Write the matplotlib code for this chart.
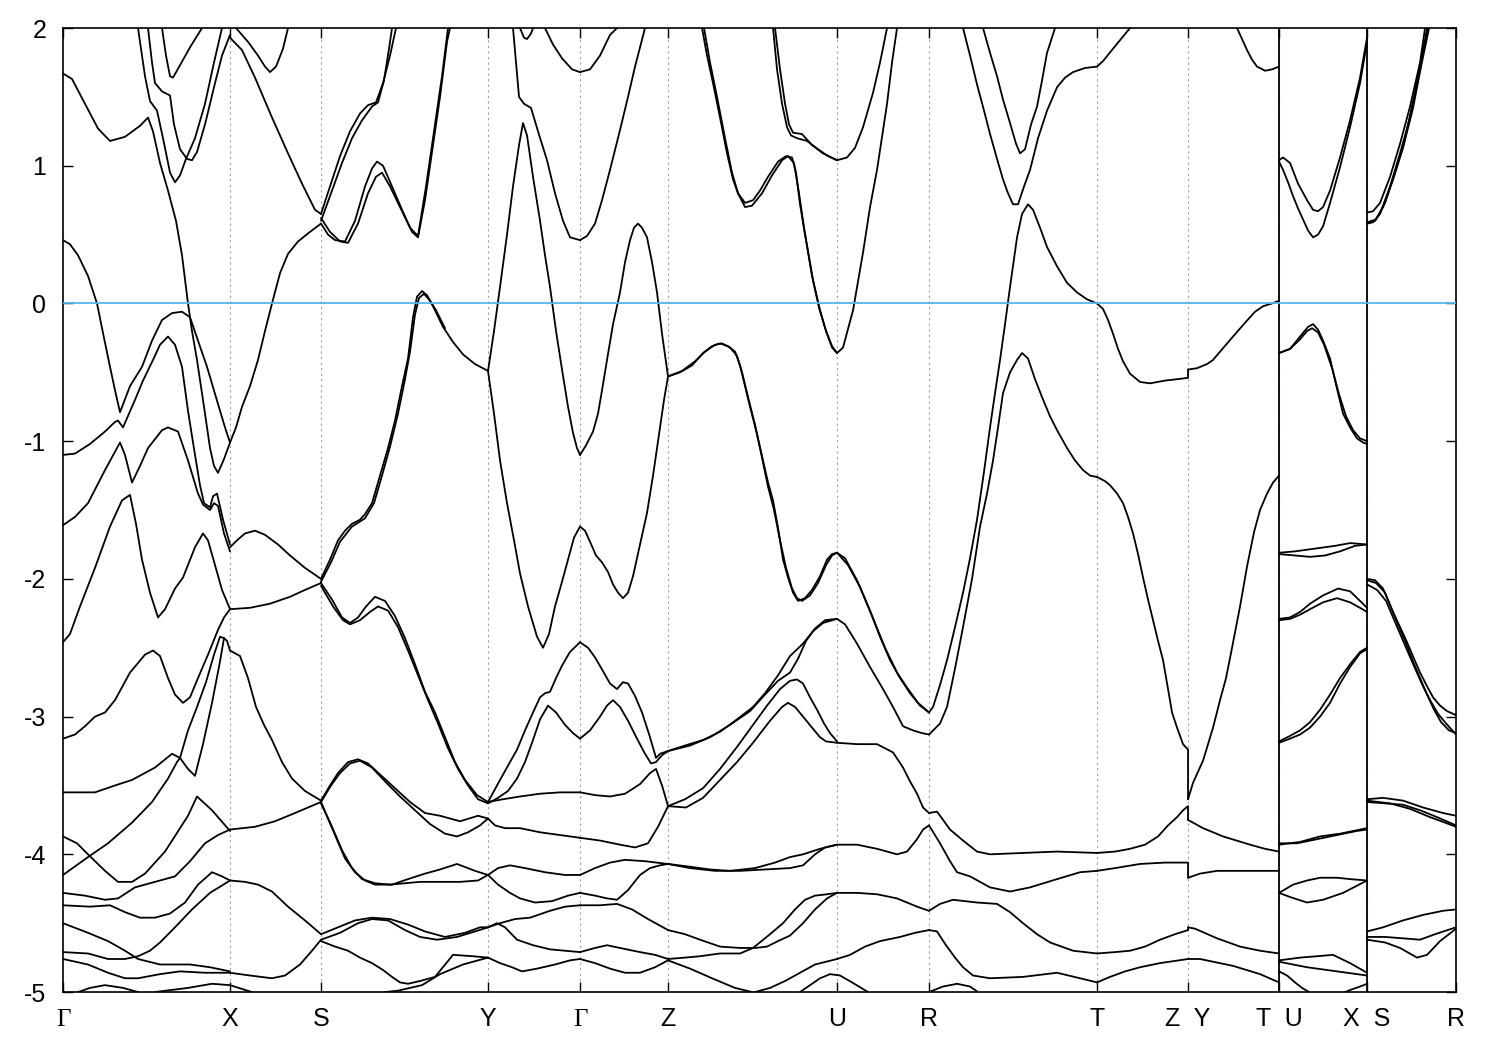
import matplotlib
matplotlib.use("Agg")
import matplotlib.pyplot as plt

plt.rcParams['axes.unicode_minus'] = False
plt.rcParams['font.family'] = ['Liberation Sans', 'DejaVu Sans']

# ---------------- k-path ----------------
sym_k = [0, 167, 258, 425, 517, 605, 774, 866, 1034, 1125, 1216, 1304, 1393]
sym_labels = ['Γ', 'X', 'S', 'Y', 'Γ', 'Z', 'U', 'R', 'T', 'Z  Y', 'T  U', 'X  S', 'R']
jump_k = [1216, 1304]          # discontinuous path points (T|U, X|S)
E_MIN, E_MAX = -5, 2
fermi_level = 0.0

# ---------------- bands, (k, E in eV), per path segment ----------------
bands_GX = [
    [(0,1.67),(9,1.63),(22,1.45),(35,1.27),(47,1.18),(62,1.21),(77,1.29),(85,1.35),(90,1.25),(97,1.02),(105,0.82),(113,0.6),(119,0.35),(125,0.0),(129,-0.2),(134,-0.41),(141,-0.75),(147,-1.05),(151,-1.18),(155,-1.23),(161,-1.13),(167,-1.01)],
    [(75,2.0),(82,1.65),(87,1.47),(94,1.4),(100,1.2),(107,0.95),(112,0.88),(117,0.93),(123,1.05),(132,1.2),(142,1.45),(151,1.75),(159,2.0)],
    [(85,2.0),(89,1.75),(92,1.6),(99,1.54),(107,1.51),(111,1.3),(117,1.12),(124,1.05),(129,1.04),(134,1.1),(142,1.3),(152,1.6),(159,1.8),(167,1.95)],
    [(99,2.0),(103,1.8),(107,1.65),(110,1.64),(117,1.73),(127,1.86),(139,2.0)],
    [(0,0.46),(7,0.43),(15,0.35),(25,0.2),(34,0.0),(41,-0.25),(47,-0.46),(52,-0.63),(57,-0.79),(67,-0.6),(79,-0.46),(89,-0.27),(99,-0.12),(109,-0.07),(119,-0.06),(127,-0.1),(135,-0.27),(144,-0.46),(155,-0.73),(162,-0.9),(167,-1.01)],
    [(0,-1.1),(12,-1.09),(27,-1.02),(42,-0.93),(52,-0.86),(55,-0.85),(60,-0.9),(72,-0.7),(80,-0.56),(90,-0.41),(97,-0.3),(105,-0.24),(112,-0.3),(119,-0.46),(125,-0.78),(132,-1.1),(137,-1.32),(141,-1.45),(147,-1.48),(150,-1.4),(154,-1.38),(160,-1.57),(167,-1.75)],
    [(0,-1.61),(12,-1.55),(25,-1.45),(42,-1.21),(57,-1.01),(62,-1.1),(69,-1.3),(77,-1.18),(85,-1.05),(99,-0.92),(105,-0.9),(115,-0.93),(125,-1.14),(135,-1.38),(140,-1.46),(147,-1.5),(151,-1.45),(155,-1.47),(161,-1.67),(167,-1.8)],
    [(0,-2.46),(7,-2.4),(17,-2.2),(32,-1.92),(47,-1.62),(59,-1.43),(67,-1.39),(73,-1.6),(79,-1.86),(87,-2.1),(95,-2.28),(102,-2.22),(112,-2.07),(120,-1.99),(132,-1.77),(140,-1.67),(145,-1.72),(152,-1.9),(159,-2.08),(167,-2.22)],
    [(0,-3.16),(12,-3.13),(22,-3.07),(32,-3.0),(42,-2.97),(52,-2.88),(67,-2.68),(82,-2.55),(90,-2.52),(97,-2.56),(105,-2.72),(112,-2.84),(120,-2.9),(127,-2.86),(135,-2.72),(145,-2.55),(155,-2.37),(161,-2.28),(167,-2.22)],
    [(0,-3.55),(32,-3.55),(52,-3.5),(69,-3.46),(92,-3.37),(109,-3.27),(117,-3.3),(125,-3.38),(132,-3.43),(140,-3.2),(149,-2.9),(157,-2.6),(161,-2.43),(164,-2.45),(167,-2.52)],
    [(0,-4.15),(25,-4.02),(45,-3.92),(69,-3.77),(89,-3.62),(105,-3.45),(114,-3.33),(117,-3.3),(125,-3.1),(133,-2.95),(143,-2.75),(151,-2.55),(157,-2.42),(161,-2.43)],
    [(0,-3.87),(14,-3.92),(25,-4.0),(42,-4.12),(55,-4.2),(69,-4.2),(82,-4.14),(102,-3.98),(125,-3.72),(134,-3.58),(149,-3.68),(167,-3.83)],
    [(0,-4.28),(22,-4.3),(42,-4.33),(55,-4.32),(72,-4.24),(92,-4.2),(112,-4.16),(127,-4.05),(142,-3.92),(155,-3.86),(167,-3.82)],
    [(0,-4.37),(27,-4.38),(47,-4.37),(62,-4.42),(77,-4.46),(92,-4.46),(107,-4.43),(122,-4.35),(135,-4.22),(149,-4.13),(159,-4.16),(167,-4.19)],
    [(0,-4.5),(25,-4.57),(45,-4.63),(62,-4.7),(75,-4.76),(97,-4.8),(127,-4.8),(147,-4.82),(167,-4.85)],
    [(0,-4.71),(25,-4.72),(45,-4.76),(62,-4.76),(75,-4.74),(87,-4.7),(97,-4.64),(112,-4.53),(129,-4.4),(147,-4.28),(167,-4.19)],
    [(0,-4.76),(25,-4.8),(45,-4.86),(62,-4.9),(75,-4.9),(97,-4.87),(117,-4.85),(142,-4.86),(167,-4.86)],
    [(15,-5.0),(27,-4.97),(42,-4.95),(60,-4.97),(75,-5.0)],
    [(92,-5.0),(125,-4.97),(149,-4.94),(167,-4.95),(180,-4.98),(189,-5.0)],
]

bands_XS = [
    [(167,1.93),(179,1.84),(192,1.64),(209,1.35),(225,1.09),(239,0.87),(252,0.68),(258,0.65)],
    [(173,2.0),(185,1.9),(195,1.8),(202,1.72),(207,1.68),(213,1.72),(220,1.85),(225,2.0)],
    [(167,-1.01),(173,-0.9),(179,-0.75),(187,-0.6),(195,-0.41),(202,-0.2),(209,0.0),(217,0.22),(225,0.36),(235,0.45),(247,0.52),(258,0.58)],
    [(167,-1.77),(174,-1.72),(182,-1.67),(192,-1.65),(202,-1.68),(215,-1.75),(227,-1.83),(242,-1.92),(258,-2.0)],
    [(167,-2.22),(187,-2.21),(207,-2.18),(227,-2.13),(242,-2.08),(258,-2.03)],
    [(167,-2.52),(177,-2.56),(185,-2.72),(193,-2.93),(201,-3.06),(209,-3.17),(219,-3.33),(229,-3.45),(242,-3.54),(258,-3.61)],
    [(167,-3.82),(192,-3.8),(212,-3.76),(232,-3.7),(258,-3.62)],
    [(167,-4.19),(182,-4.2),(195,-4.22),(209,-4.27),(225,-4.38),(242,-4.48),(258,-4.58)],
    [(167,-4.86),(187,-4.88),(209,-4.9),(222,-4.88),(237,-4.8),(249,-4.7),(258,-4.62)],
]

bands_SY = [
    [(258,0.65),(267,0.85),(277,1.07),(287,1.25),(297,1.38),(305,1.44),(313,1.46),(320,1.6),(327,1.8),(333,2.0)],
    [(258,0.6),(269,0.82),(279,1.02),(289,1.2),(299,1.33),(309,1.43),(315,1.46),(321,1.62),(326,1.85),(329,2.0)],
    [(258,0.58),(265,0.5),(272,0.46),(282,0.45),(292,0.6),(302,0.85),(309,0.98),(314,1.03),(320,1.0),(329,0.85),(339,0.68),(349,0.52),(355,0.48),(362,0.75),(369,1.1),(377,1.5),(384,1.9),(387,2.0)],
    [(258,0.62),(267,0.52),(277,0.45),(285,0.44),(295,0.58),(305,0.8),(313,0.92),(319,0.95),(327,0.85),(337,0.7),(347,0.55),(355,0.49),(363,0.85),(371,1.25),(379,1.65),(385,2.0)],
    [(258,-2.0),(267,-1.86),(275,-1.72),(282,-1.65),(289,-1.6),(297,-1.57),(302,-1.53),(309,-1.45),(317,-1.25),(325,-1.05),(332,-0.85),(339,-0.6),(345,-0.4),(350,-0.1),(354,0.05),(359,0.09),(364,0.06),(370,-0.02),(380,-0.17),(390,-0.28),(400,-0.37),(412,-0.44),(425,-0.49)],
    [(258,-2.02),(268,-1.88),(277,-1.73),(289,-1.62),(302,-1.56),(311,-1.45),(319,-1.25),(327,-1.04),(335,-0.8),(342,-0.55),(347,-0.35),(352,-0.08),(356,0.04),(361,0.07),(367,0.02),(373,-0.05),(382,-0.18)],
    [(258,-2.03),(269,-2.15),(279,-2.28),(287,-2.32),(295,-2.28),(303,-2.2),(312,-2.13),(322,-2.16),(332,-2.27),(342,-2.43),(352,-2.62),(362,-2.82),(372,-2.97),(382,-3.15),(392,-3.33),(402,-3.46),(414,-3.57),(425,-3.62)],
    [(258,-2.05),(270,-2.2),(280,-2.3),(287,-2.33),(297,-2.3),(307,-2.24),(315,-2.2),(325,-2.23),(335,-2.35),(345,-2.52),(355,-2.7),(365,-2.88),(375,-3.05),(385,-3.23),(395,-3.38),(405,-3.5),(415,-3.6),(425,-3.63)],
    [(258,-3.61),(267,-3.5),(275,-3.41),(285,-3.33),(295,-3.31),(305,-3.34),(317,-3.42),(332,-3.52),(347,-3.62),(362,-3.7),(377,-3.72),(397,-3.76),(415,-3.72),(425,-3.74)],
    [(258,-3.62),(268,-3.5),(277,-3.41),(287,-3.34),(297,-3.32),(309,-3.37),(322,-3.47),(337,-3.58),(352,-3.68),(367,-3.78),(382,-3.85),(394,-3.87),(405,-3.84),(417,-3.79),(425,-3.74)],
    [(258,-3.62),(265,-3.74),(272,-3.86),(282,-4.03),(292,-4.13),(302,-4.19),(312,-4.22),(329,-4.22),(345,-4.18),(362,-4.14),(377,-4.11),(394,-4.07),(412,-4.12),(425,-4.15)],
    [(258,-3.63),(269,-3.8),(279,-3.97),(289,-4.1),(299,-4.18),(312,-4.21),(327,-4.22),(342,-4.21),(357,-4.2),(377,-4.2),(397,-4.2),(415,-4.19),(425,-4.15)],
    [(258,-4.58),(275,-4.53),(292,-4.48),(309,-4.46),(327,-4.47),(345,-4.51),(362,-4.56),(382,-4.6),(402,-4.57),(417,-4.53),(425,-4.53)],
    [(258,-4.62),(277,-4.57),(295,-4.5),(309,-4.47),(325,-4.48),(342,-4.55),(357,-4.6),(374,-4.62),(394,-4.6),(412,-4.56),(425,-4.53)],
    [(322,-5.0),(335,-4.99),(359,-4.95),(377,-4.87),(400,-4.8),(425,-4.75)],
    [(258,-4.63),(272,-4.67),(285,-4.7),(297,-4.75),(309,-4.79),(320,-4.84),(329,-4.89),(337,-4.93),(345,-4.94),(357,-4.92),(372,-4.89),(390,-4.73),(410,-4.74),(425,-4.75)],
]

bands_YG = [
    [(425,-0.49),(431,-0.2),(437,0.12),(444,0.5),(450,0.85),(456,1.15),(460,1.31),(464,1.22),(470,0.92),(477,0.6),(482,0.35),(487,0.12),(493,-0.2),(499,-0.48),(505,-0.75),(510,-0.94),(514,-1.05),(517,-1.1)],
    [(425,-0.49),(431,-0.8),(437,-1.14),(444,-1.45),(451,-1.72),(457,-1.96),(465,-2.2),(474,-2.42),(480,-2.5),(486,-2.4),(492,-2.2),(499,-2.02),(505,-1.86),(511,-1.7),(517,-1.62)],
    [(450,2.0),(453,1.75),(456,1.5),(461,1.45),(468,1.42),(475,1.25),(484,1.04),(492,0.8),(500,0.6),(507,0.48),(517,0.46)],
    [(482,2.0),(490,1.88),(499,1.78),(509,1.7),(517,1.68)],
    [(457,2.0),(461,1.93),(464,1.92),(468,1.96),(470,2.0)],
    [(425,-3.62),(437,-3.46),(447,-3.33),(454,-3.24),(462,-3.1),(470,-2.97),(477,-2.86),(482,-2.83),(487,-2.82),(493,-2.72),(499,-2.63),(507,-2.53),(517,-2.46)],
    [(425,-3.63),(435,-3.59),(445,-3.54),(454,-3.45),(462,-3.33),(470,-3.17),(477,-3.02),(485,-2.92),(493,-2.97),(502,-3.06),(510,-3.12),(517,-3.16)],
    [(425,-3.62),(440,-3.6),(457,-3.58),(477,-3.56),(497,-3.55),(517,-3.55)],
    [(425,-3.74),(432,-3.79),(442,-3.81),(457,-3.81),(477,-3.84),(497,-3.86),(517,-3.88)],
    [(425,-4.15),(435,-4.1),(447,-4.08),(462,-4.1),(482,-4.13),(502,-4.15),(517,-4.15)],
    [(425,-4.15),(435,-4.22),(447,-4.28),(457,-4.32),(472,-4.35),(489,-4.34),(505,-4.3),(517,-4.28)],
    [(425,-4.53),(437,-4.5),(452,-4.47),(467,-4.46),(487,-4.41),(502,-4.38),(517,-4.37)],
    [(425,-4.53),(434,-4.5),(442,-4.53),(454,-4.62),(470,-4.66),(487,-4.69),(502,-4.7),(517,-4.71)],
    [(425,-4.75),(437,-4.79),(449,-4.82),(459,-4.85),(474,-4.83),(492,-4.8),(507,-4.77),(517,-4.76)],
]

bands_GZ = [
    [(517,1.68),(527,1.7),(537,1.8),(547,1.95),(554,2.0)],
    [(517,0.46),(524,0.49),(532,0.58),(539,0.75),(547,0.97),(557,1.26),(565,1.5),(572,1.72),(582,2.0)],
    [(517,-1.1),(523,-1.03),(530,-0.93),(535,-0.8),(539,-0.63),(544,-0.41),(550,-0.15),(557,0.08),(562,0.3),(567,0.46),(571,0.55),(575,0.58),(579,0.55),(584,0.48),(589,0.3),(594,0.08),(599,-0.22),(605,-0.53)],
    [(517,-1.62),(522,-1.65),(527,-1.73),(533,-1.83),(539,-1.88),(545,-1.95),(550,-2.04),(555,-2.1),(560,-2.14),(565,-2.1),(570,-1.98),(577,-1.75),(584,-1.52),(590,-1.25),(597,-0.9),(601,-0.7),(605,-0.53)],
    [(517,-2.46),(525,-2.5),(532,-2.57),(540,-2.67),(547,-2.76),(554,-2.8),(560,-2.75),(565,-2.76),(572,-2.85),(579,-2.97),(587,-3.15),(593,-3.3),(597,-3.27),(605,-3.25)],
    [(517,-3.16),(527,-3.1),(537,-3.0),(544,-2.92),(550,-2.88),(557,-2.93),(565,-3.03),(574,-3.16),(582,-3.27),(588,-3.34),(593,-3.33),(599,-3.28),(605,-3.25)],
    [(517,-3.55),(532,-3.57),(547,-3.58),(562,-3.56),(577,-3.49),(587,-3.41),(593,-3.38),(599,-3.5),(605,-3.65)],
    [(517,-3.88),(537,-3.9),(557,-3.93),(572,-3.95),(585,-3.92),(595,-3.8),(605,-3.65)],
    [(517,-4.15),(532,-4.1),(547,-4.06),(562,-4.04),(582,-4.05),(605,-4.07)],
    [(517,-4.28),(532,-4.3),(544,-4.32),(554,-4.33),(565,-4.26),(577,-4.15),(587,-4.1),(597,-4.08),(605,-4.07)],
    [(517,-4.37),(537,-4.37),(554,-4.36),(569,-4.4),(585,-4.47),(605,-4.55)],
    [(517,-4.71),(532,-4.68),(544,-4.66),(557,-4.68),(577,-4.71),(592,-4.73),(605,-4.76)],
    [(517,-4.76),(532,-4.79),(547,-4.83),(562,-4.86),(577,-4.86),(592,-4.82),(605,-4.77)],
]

bands_ZU = [
    [(605,-0.53),(617,-0.5),(629,-0.45),(640,-0.36),(649,-0.31),(657,-0.29),(665,-0.31),(672,-0.35),(677,-0.45),(682,-0.6),(687,-0.75),(694,-0.95),(700,-1.14),(705,-1.3),(710,-1.43),(715,-1.63),(720,-1.86),(725,-1.99),(730,-2.1),(735,-2.16),(742,-2.14),(749,-2.08),(757,-1.98),(764,-1.86),(769,-1.82),(774,-1.81)],
    [(605,-0.53),(619,-0.49),(632,-0.42),(642,-0.35),(652,-0.3),(659,-0.29),(667,-0.32),(674,-0.38),(679,-0.5),(685,-0.68),(692,-0.88),(699,-1.12),(705,-1.33),(711,-1.5),(717,-1.72),(723,-1.92),(729,-2.07),(734,-2.14),(739,-2.16),(747,-2.12),(755,-2.03),(763,-1.9),(769,-1.83),(774,-1.81)],
    [(639,2.0),(644,1.8),(650,1.6),(657,1.35),(664,1.09),(670,0.9),(675,0.8),(682,0.73),(690,0.75),(697,0.82),(705,0.92),(715,1.03),(723,1.07),(729,1.06),(733,0.95),(737,0.72),(742,0.5),(750,0.17),(757,-0.05),(763,-0.2),(769,-0.31),(774,-0.36)],
    [(641,2.0),(647,1.75),(654,1.5),(662,1.2),(669,0.95),(675,0.8),(682,0.7),(689,0.71),(699,0.8),(709,0.93),(719,1.04),(725,1.07),(731,1.02),(736,0.8),(741,0.55),(749,0.2),(756,-0.03),(763,-0.2),(769,-0.32),(774,-0.36)],
    [(710,2.0),(714,1.7),(719,1.45),(724,1.28),(728,1.22),(734,1.2),(744,1.18),(755,1.12),(765,1.07),(774,1.04)],
    [(712,2.0),(717,1.7),(722,1.45),(726,1.3),(730,1.24),(739,1.23),(749,1.15),(760,1.09),(774,1.04)],
    [(605,-3.25),(622,-3.21),(640,-3.17),(657,-3.11),(674,-3.02),(690,-2.93),(702,-2.83),(715,-2.7),(727,-2.56),(740,-2.47),(750,-2.38),(760,-2.32),(774,-2.29)],
    [(605,-3.25),(627,-3.21),(647,-3.15),(667,-3.06),(687,-2.96),(702,-2.84),(715,-2.74),(727,-2.68),(735,-2.58),(743,-2.45),(752,-2.36),(762,-2.3),(774,-2.29)],
    [(605,-3.65),(623,-3.66),(640,-3.59),(657,-3.46),(674,-3.33),(690,-3.19),(707,-3.03),(719,-2.93),(725,-2.9),(732,-2.93),(740,-3.0),(749,-3.08),(757,-3.15),(763,-3.18),(774,-3.19)],
    [(605,-3.65),(622,-3.6),(640,-3.52),(657,-3.38),(674,-3.22),(690,-3.06),(704,-2.92),(717,-2.8),(727,-2.74),(734,-2.73),(740,-2.76),(747,-2.86),(754,-2.95),(761,-3.05),(767,-3.12),(774,-3.18)],
    [(605,-4.07),(627,-4.09),(647,-4.11),(667,-4.12),(692,-4.1),(712,-4.06),(727,-4.02),(740,-4.0),(757,-3.96),(774,-3.93)],
    [(605,-4.07),(627,-4.1),(652,-4.12),(677,-4.12),(702,-4.11),(727,-4.1),(740,-4.08),(752,-4.0),(762,-3.95),(774,-3.93)],
    [(605,-4.55),(622,-4.58),(637,-4.62),(657,-4.67),(677,-4.68),(692,-4.68),(704,-4.67),(715,-4.63),(727,-4.59),(740,-4.5),(752,-4.4),(764,-4.32),(774,-4.28)],
    [(605,-4.76),(622,-4.75),(637,-4.74),(657,-4.72),(677,-4.72),(690,-4.68),(707,-4.58),(720,-4.5),(732,-4.4),(742,-4.33),(752,-4.3),(764,-4.29),(774,-4.28)],
    [(605,-4.77),(627,-4.83),(649,-4.9),(672,-4.97),(689,-5.0)],
    [(692,-5.0),(707,-4.97),(722,-4.92),(737,-4.86),(752,-4.8),(774,-4.76)],
    [(737,-5.0),(747,-4.95),(757,-4.9),(767,-4.87),(777,-4.88),(789,-4.93),(805,-5.0)],
]

bands_UR = [
    [(774,-0.36),(780,-0.32),(790,-0.05),(800,0.37),(807,0.7),(814,0.97),(824,1.45),(829,1.75),(834,2.0)],
    [(774,1.04),(784,1.06),(792,1.13),(800,1.28),(810,1.53),(817,1.75),(824,2.0)],
    [(774,-1.81),(782,-1.85),(794,-2.01),(807,-2.23),(817,-2.42),(827,-2.59),(837,-2.72),(847,-2.83),(857,-2.92),(866,-2.97)],
    [(774,-1.81),(785,-1.9),(797,-2.06),(809,-2.27),(822,-2.5),(834,-2.68),(845,-2.8),(855,-2.9),(866,-2.97)],
    [(774,-2.29),(782,-2.33),(794,-2.47),(807,-2.64),(820,-2.8),(830,-2.93),(840,-3.07),(850,-3.1),(859,-3.12),(866,-3.13)],
    [(774,-3.19),(794,-3.2),(814,-3.2),(830,-3.26),(840,-3.37),(847,-3.47),(854,-3.56),(860,-3.66),(866,-3.7)],
    [(774,-3.93),(794,-3.93),(814,-3.96),(834,-4.0),(844,-3.98),(854,-3.89),(860,-3.82),(866,-3.79)],
    [(774,-4.28),(794,-4.28),(814,-4.29),(834,-4.32),(854,-4.38),(866,-4.41)],
    [(774,-4.76),(787,-4.73),(802,-4.67),(817,-4.63),(837,-4.6),(852,-4.57),(866,-4.55)],
]

bands_RT = [
    [(900,2.0),(907,1.8),(914,1.59),(921,1.4),(927,1.23),(934,1.05),(940,0.9),(945,0.8),(950,0.72),(955,0.72),(961,0.85),(967,0.97),(975,1.2),(984,1.4),(994,1.57),(1002,1.64),(1010,1.68),(1022,1.71),(1034,1.72)],
    [(920,2.0),(927,1.82),(934,1.65),(940,1.48),(947,1.31),(953,1.16),(957,1.09),(962,1.12),(968,1.3),(974,1.43),(979,1.62),(984,1.82),(992,2.0)],
    [(866,-2.97),(870,-2.93),(877,-2.77),(884,-2.59),(892,-2.35),(900,-2.1),(907,-1.85),(914,-1.57),(921,-1.22),(927,-0.9),(932,-0.65),(937,-0.41),(942,-0.15),(947,0.12),(954,0.48),(959,0.65),(965,0.72),(970,0.68),(977,0.55),(984,0.41),(994,0.27),(1004,0.15),(1014,0.08),(1024,0.03),(1034,0.0)],
    [(866,-3.13),(877,-3.05),(884,-2.93),(892,-2.65),(900,-2.35),(909,-2.0),(917,-1.62),(924,-1.38),(930,-1.14),(935,-0.9),(940,-0.65),(947,-0.5),(954,-0.41),(959,-0.36),(965,-0.4),(972,-0.55),(979,-0.68),(987,-0.82),(994,-0.92),(1004,-1.05),(1012,-1.14),(1020,-1.21),(1027,-1.25),(1034,-1.26)],
    [(866,-3.7),(874,-3.69),(887,-3.82),(900,-3.9),(914,-3.98),(927,-4.0),(960,-3.99),(994,-3.98),(1034,-3.99)],
    [(866,-3.79),(877,-3.92),(887,-4.05),(894,-4.13),(907,-4.16),(927,-4.24),(947,-4.27),(967,-4.24),(994,-4.18),(1017,-4.13),(1034,-4.12)],
    [(866,-4.41),(877,-4.36),(890,-4.33),(914,-4.35),(934,-4.36),(947,-4.42),(960,-4.5),(974,-4.58),(987,-4.64),(1010,-4.7),(1034,-4.72)],
    [(866,-4.55),(874,-4.56),(882,-4.65),(892,-4.75),(900,-4.82),(910,-4.88),(927,-4.9),(960,-4.89),(994,-4.86),(1017,-4.9),(1034,-4.93)],
    [(866,-5.0),(880,-4.96),(894,-4.94),(907,-4.96),(915,-5.0)],
]

# last point of each T-Z band is the value on the Y side of the Z|Y break
bands_TZ = [
    [(1034,1.72),(1040,1.76),(1050,1.85),(1059,1.93),(1067,2.0)],
    [(1034,0.0),(1040,-0.04),(1045,-0.12),(1050,-0.22),(1055,-0.33),(1060,-0.42),(1067,-0.51),(1077,-0.57),(1087,-0.58),(1102,-0.56),(1114,-0.55),(1125,-0.54),(1125,-0.48)],
    [(1034,-1.26),(1042,-1.29),(1047,-1.32),(1054,-1.38),(1060,-1.45),(1065,-1.55),(1070,-1.67),(1075,-1.82),(1080,-1.99),(1085,-2.15),(1090,-2.3),(1095,-2.45),(1100,-2.59),(1105,-2.8),(1109,-2.97),(1114,-3.08),(1120,-3.2),(1125,-3.24),(1125,-3.6)],
    [(1034,-3.99),(1052,-3.98),(1067,-3.96),(1082,-3.93),(1095,-3.87),(1105,-3.79),(1114,-3.73),(1120,-3.68),(1125,-3.65),(1125,-3.75)],
    [(1034,-4.12),(1052,-4.1),(1077,-4.07),(1102,-4.06),(1125,-4.06),(1125,-4.17)],
    [(1034,-4.72),(1052,-4.71),(1067,-4.7),(1082,-4.67),(1097,-4.62),(1112,-4.58),(1125,-4.55),(1125,-4.53)],
    [(1034,-4.93),(1047,-4.89),(1062,-4.85),(1077,-4.82),(1097,-4.79),(1125,-4.76)],
]

bands_YT = [
    [(1125,-0.48),(1134,-0.47),(1144,-0.44),(1150,-0.41),(1157,-0.35),(1170,-0.24),(1182,-0.14),(1192,-0.06),(1200,-0.02),(1209,0.0),(1216,0.02)],
    [(1174,2.0),(1179,1.92),(1184,1.84),(1189,1.77),(1194,1.72),(1202,1.69),(1209,1.7),(1216,1.72)],
    [(1125,-3.6),(1130,-3.48),(1135,-3.4),(1140,-3.32),(1145,-3.2),(1150,-3.08),(1157,-2.88),(1163,-2.72),(1169,-2.5),(1177,-2.2),(1184,-1.91),(1191,-1.66),(1197,-1.5),(1204,-1.38),(1210,-1.3),(1216,-1.25)],
    [(1125,-3.75),(1140,-3.81),(1160,-3.87),(1187,-3.93),(1202,-3.96),(1216,-3.98)],
    [(1125,-4.17),(1137,-4.14),(1154,-4.12),(1187,-4.12),(1216,-4.12)],
    [(1125,-4.53),(1132,-4.54),(1154,-4.61),(1177,-4.67),(1197,-4.7),(1216,-4.72)],
    [(1125,-4.76),(1137,-4.76),(1170,-4.81),(1197,-4.87),(1216,-4.93)],
]

bands_UX = [
    [(1216,1.04),(1220,1.06),(1227,1.02),(1235,0.87),(1244,0.75),(1250,0.68),(1255,0.67),(1260,0.7),(1267,0.82),(1277,1.06),(1287,1.33),(1297,1.64),(1304,1.93)],
    [(1216,1.03),(1220,0.97),(1225,0.88),(1230,0.78),(1235,0.69),(1240,0.61),(1245,0.53),(1250,0.48),(1255,0.5),(1260,0.56),(1267,0.73),(1277,0.99),(1287,1.28),(1297,1.6),(1304,1.9)],
    [(1216,-0.36),(1227,-0.33),(1237,-0.24),(1245,-0.17),(1250,-0.15),(1255,-0.19),(1260,-0.27),(1267,-0.4),(1274,-0.62),(1280,-0.8),(1287,-0.9),(1294,-0.98),(1300,-1.01),(1304,-1.02)],
    [(1216,-0.36),(1227,-0.33),(1237,-0.26),(1244,-0.2),(1249,-0.18),(1255,-0.21),(1261,-0.3),(1269,-0.47),(1276,-0.66),(1283,-0.82),(1290,-0.92),(1297,-0.98),(1304,-1.0)],
    [(1216,-1.81),(1232,-1.8),(1252,-1.78),(1272,-1.76),(1287,-1.74),(1304,-1.75)],
    [(1216,-1.82),(1232,-1.83),(1247,-1.84),(1262,-1.83),(1277,-1.8),(1292,-1.76),(1304,-1.75)],
    [(1216,-2.29),(1227,-2.28),(1237,-2.24),(1247,-2.18),(1260,-2.12),(1275,-2.07),(1287,-2.09),(1297,-2.16),(1304,-2.21)],
    [(1216,-2.3),(1227,-2.29),(1237,-2.26),(1247,-2.22),(1260,-2.17),(1274,-2.14),(1287,-2.17),(1297,-2.21),(1304,-2.24)],
    [(1216,-3.19),(1227,-3.16),(1237,-3.13),(1247,-3.08),(1257,-3.0),(1267,-2.9),(1277,-2.76),(1287,-2.64),(1297,-2.54),(1304,-2.51)],
    [(1216,-3.18),(1227,-3.14),(1237,-3.1),(1247,-3.04),(1257,-2.95),(1267,-2.84),(1277,-2.72),(1287,-2.62),(1297,-2.53),(1304,-2.5)],
    [(1216,-3.92),(1234,-3.92),(1254,-3.89),(1274,-3.86),(1294,-3.83),(1304,-3.82)],
    [(1216,-3.93),(1237,-3.91),(1257,-3.87),(1277,-3.85),(1304,-3.81)],
    [(1216,-4.28),(1230,-4.22),(1244,-4.19),(1257,-4.17),(1274,-4.17),(1287,-4.18),(1304,-4.19)],
    [(1216,-4.28),(1227,-4.31),(1244,-4.35),(1260,-4.33),(1280,-4.28),(1304,-4.19)],
    [(1216,-4.77),(1237,-4.75),(1254,-4.74),(1270,-4.73),(1287,-4.79),(1304,-4.86)],
    [(1216,-4.78),(1244,-4.82),(1274,-4.85),(1304,-4.88)],
    [(1216,-4.85),(1224,-4.88),(1232,-4.93),(1239,-4.97),(1246,-5.0)],
    [(1282,-5.0),(1289,-4.98),(1297,-4.96),(1304,-4.94)],
]

bands_SR = [
    [(1304,0.66),(1310,0.67),(1317,0.73),(1327,0.92),(1337,1.16),(1347,1.43),(1357,1.75),(1362,2.0)],
    [(1304,0.58),(1310,0.59),(1317,0.65),(1327,0.85),(1337,1.09),(1347,1.35),(1357,1.7),(1364,2.0)],
    [(1304,0.58),(1312,0.6),(1320,0.7),(1330,0.9),(1340,1.13),(1350,1.42),(1358,1.72),(1366,2.0)],
    [(1304,0.59),(1313,0.61),(1322,0.73),(1332,0.95),(1342,1.2),(1351,1.5),(1359,1.8),(1365,2.0)],
    [(1304,-2.0),(1312,-2.01),(1320,-2.07),(1330,-2.24),(1337,-2.35),(1344,-2.46),(1351,-2.58),(1357,-2.68),(1364,-2.78),(1370,-2.86),(1377,-2.92),(1384,-2.96),(1393,-2.99)],
    [(1304,-2.01),(1313,-2.03),(1322,-2.1),(1332,-2.28),(1342,-2.45),(1350,-2.6),(1357,-2.72),(1364,-2.84),(1371,-2.95),(1378,-3.04),(1386,-3.1),(1393,-3.12)],
    [(1304,-2.04),(1314,-2.08),(1323,-2.16),(1333,-2.33),(1343,-2.5),(1352,-2.65),(1360,-2.78),(1367,-2.88),(1375,-2.98),(1383,-3.05),(1393,-3.13)],
    [(1304,-3.6),(1320,-3.59),(1340,-3.61),(1360,-3.66),(1380,-3.7),(1393,-3.72)],
    [(1304,-3.62),(1322,-3.63),(1340,-3.64),(1357,-3.68),(1374,-3.73),(1393,-3.79)],
    [(1304,-3.61),(1327,-3.63),(1347,-3.67),(1367,-3.73),(1382,-3.77),(1393,-3.8)],
    [(1304,-4.56),(1320,-4.53),(1340,-4.48),(1360,-4.44),(1380,-4.41),(1393,-4.4)],
    [(1304,-4.62),(1322,-4.64),(1337,-4.68),(1354,-4.75),(1364,-4.73),(1377,-4.63),(1393,-4.54)],
    [(1304,-4.6),(1322,-4.6),(1340,-4.61),(1357,-4.62),(1372,-4.58),(1393,-4.53)],
]

segments = [bands_GX, bands_XS, bands_SY, bands_YG, bands_GZ, bands_ZU,
            bands_UR, bands_RT, bands_TZ, bands_YT, bands_UX, bands_SR]

# ---------------- figure ----------------
fig = plt.figure(figsize=(15, 10.5), dpi=100)
ax = fig.add_axes([0.042, 0.0552, 0.9287, 0.9181])

for k in sym_k[1:-1]:
    ax.axvline(k, color='#a0a0a0', ls=(0, (2, 3)), lw=0.8, zorder=1)

for seg in segments:
    for band in seg:
        ks, es = zip(*band)
        ax.plot(ks, es, color='black', lw=1.3, zorder=3,
                solid_joinstyle='round', solid_capstyle='round')

for k in jump_k:
    ax.plot([k, k], [E_MIN, E_MAX], color='black', lw=1.3, zorder=3)

ax.axhline(fermi_level, color='#56b4e9', lw=1.3, zorder=4)

ax.set_xlim(sym_k[0], sym_k[-1])
ax.set_ylim(E_MIN, E_MAX)
ax.set_xticks(sym_k)
ax.set_xticklabels(sym_labels)
ax.set_yticks(range(E_MIN, E_MAX + 1))
ax.tick_params(direction='in', top=True, right=True, length=7, width=1,
               labelsize=18, color='black')
ax.tick_params(axis='x', pad=11)
ax.tick_params(axis='y', pad=12)
for lbl in ax.get_xticklabels():
    if lbl.get_text() == 'Γ':
        lbl.set_fontfamily('Liberation Serif')
        lbl.set_fontsize(18)
        lbl.set_y(-0.0015)
for sp in ax.spines.values():
    sp.set_linewidth(1.2)

fig.savefig('out.png', dpi=100)
